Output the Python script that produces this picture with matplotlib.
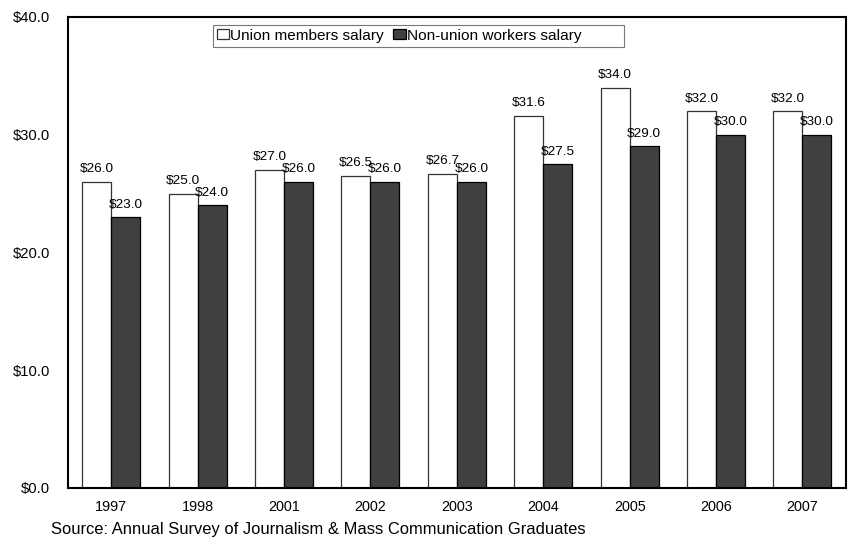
import numpy as np
import matplotlib.pyplot as plt

plt.rcParams["font.family"] = ["Liberation Sans", "DejaVu Sans"]

years = ["1997", "1998", "2001", "2002", "2003", "2004", "2005", "2006", "2007"]
union = [26.0, 25.0, 27.0, 26.5, 26.7, 31.6, 34.0, 32.0, 32.0]
non_union = [23.0, 24.0, 26.0, 26.0, 26.0, 27.5, 29.0, 30.0, 30.0]

fig = plt.figure(figsize=(8.62, 5.44), dpi=100)
ax = fig.add_axes([0.079, 0.103, 0.902, 0.866])

x = np.arange(len(years))
w = 0.336

b1 = ax.bar(x - w / 2, union, w, color="white", edgecolor="#333333",
            linewidth=0.9, label="Union members salary")
b2 = ax.bar(x + w / 2, non_union, w, color="#404040", edgecolor="black",
            linewidth=0.9, label="Non-union workers salary")

for bars, vals in [(b1, union), (b2, non_union)]:
    for rect, v in zip(bars, vals):
        ax.text(rect.get_x() + rect.get_width() / 2, v + 0.55, f"${v:.1f}",
                ha="center", va="bottom", fontsize=9.7)

ax.set_xlim(-0.5, len(years) - 0.5)
ax.set_ylim(0, 40)
ax.set_yticks([0, 10, 20, 30, 40])
ax.set_yticklabels([f"${t:.1f}" for t in [0, 10, 20, 30, 40]], fontsize=10.6)
ax.set_xticks(x)
ax.set_xticklabels(years, fontsize=10.4)
ax.tick_params(axis="x", length=0, pad=9)
ax.tick_params(axis="y", length=0, pad=13)

for s in ax.spines.values():
    s.set_linewidth(1.5)

# trailing spaces widen the legend box like the original
leg = ax.legend([b1, b2], ["Union members salary", "Non-union workers salary" + " " * 9],
                loc="upper left", bbox_to_anchor=(0.186, 0.983), ncol=2,
                fontsize=11.1, frameon=True, fancybox=False, edgecolor="#555555",
                borderpad=0.25, handlelength=0.8, handleheight=0.6,
                handletextpad=0.1, columnspacing=0.6, borderaxespad=0)
leg.get_frame().set_linewidth(0.8)

fig.text(0.059, 0.027, "Source: Annual Survey of Journalism & Mass Communication Graduates",
         fontsize=11.85, va="center")

fig.savefig("out.png", dpi=100)
